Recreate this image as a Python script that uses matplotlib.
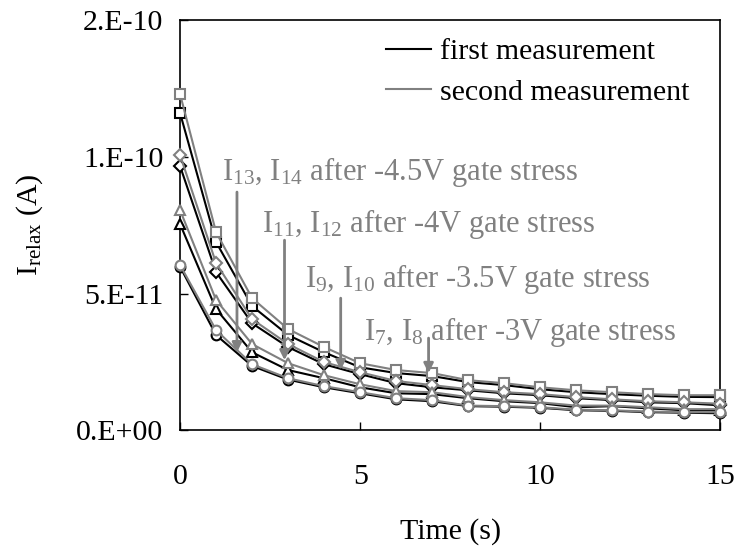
import math
import numpy as np
import matplotlib
matplotlib.use("Agg")
import matplotlib.pyplot as plt
from matplotlib.lines import Line2D
from matplotlib.ticker import FuncFormatter

plt.rcParams["font.family"] = ["Liberation Serif", "DejaVu Serif"]
plt.rcParams["mathtext.fontset"] = "custom"
plt.rcParams["mathtext.rm"] = "Liberation Serif"
plt.rcParams["mathtext.it"] = "Liberation Serif:italic"
plt.rcParams["axes.unicode_minus"] = False

# relaxation current (units of 1e-10 A) sampled once per second
time_s = np.arange(0, 16)

sq_first = [1.160, 0.688, 0.454, 0.348, 0.285, 0.230, 0.209, 0.198, 0.176, 0.165, 0.150, 0.139, 0.132, 0.126, 0.122, 0.121]
sq_second = [1.229, 0.724, 0.483, 0.370, 0.304, 0.245, 0.220, 0.209, 0.183, 0.172, 0.157, 0.146, 0.139, 0.132, 0.128, 0.128]
dia_first = [0.966, 0.578, 0.391, 0.304, 0.241, 0.205, 0.172, 0.157, 0.146, 0.135, 0.128, 0.117, 0.110, 0.102, 0.099, 0.091]
dia_second = [1.006, 0.611, 0.406, 0.315, 0.249, 0.212, 0.180, 0.165, 0.150, 0.139, 0.132, 0.121, 0.113, 0.106, 0.102, 0.097]
tri_first = [0.754, 0.443, 0.285, 0.220, 0.190, 0.157, 0.135, 0.132, 0.117, 0.106, 0.099, 0.084, 0.088, 0.080, 0.073, 0.073]
tri_second = [0.805, 0.476, 0.315, 0.245, 0.201, 0.168, 0.143, 0.139, 0.121, 0.110, 0.102, 0.090, 0.090, 0.084, 0.077, 0.077]
circ_first = [0.598, 0.348, 0.235, 0.185, 0.157, 0.135, 0.113, 0.106, 0.088, 0.086, 0.082, 0.073, 0.071, 0.066, 0.064, 0.062]
circ_second = [0.604, 0.366, 0.241, 0.190, 0.161, 0.139, 0.117, 0.110, 0.090, 0.088, 0.084, 0.075, 0.073, 0.068, 0.066, 0.066]

# labels and arrows: (text x, text baseline y, arrow x, arrow top y, arrow tip y)
ann_labels = [
    r"I$_{13}$, I$_{14}$ after -4.5V gate stress",
    r"I$_{11}$, I$_{12}$ after -4V gate stress",
    r"I$_{9}$, I$_{10}$ after -3.5V gate stress",
    r"I$_{7}$, I$_{8}$ after -3V gate stress",
]
ann_text_x = [1.16, 2.27, 3.46, 5.12]
ann_text_y = [0.915, 0.724, 0.523, 0.329]
arrow_x = [1.58, 2.90, 4.46, 6.90]
arrow_top = [0.871, 0.695, 0.483, 0.337]
arrow_tip = [0.285, 0.256, 0.220, 0.209]

black = "#000000"
gray = "#808080"
scale = 1e-10
fs = 21.5


def sci_label(v, pos):
    # one-digit mantissa with a trailing point, rounded half up
    if v == 0:
        return "0.E+00"
    e = math.floor(math.log10(abs(v)) + 1e-9)
    m = math.floor(v / 10 ** e + 0.5 + 1e-9)
    if m >= 10:
        m, e = 1, e + 1
    return f"{m}.E{e:+03d}"


fig = plt.figure(figsize=(7.38, 5.58), dpi=100)
ax = fig.add_axes([0.244, 0.229, 0.732, 0.735])

series = [
    (sq_first, "s", black), (dia_first, "D", black), (tri_first, "^", black), (circ_first, "o", black),
    (sq_second, "s", gray), (dia_second, "D", gray), (tri_second, "^", gray), (circ_second, "o", gray),
]
for vals, mk, col in series:
    ms = 6.0 if mk == "D" else 7.0
    ax.plot(time_s, np.array(vals) * scale, color=col, lw=1.5, marker=mk, ms=ms,
            mfc="white", mec=col, mew=1.5, clip_on=False, zorder=3)

for lab, tx, ty, axx, atop, atip in zip(ann_labels, ann_text_x, ann_text_y, arrow_x, arrow_top, arrow_tip):
    ax.text(tx, ty * scale, lab, color=gray, fontsize=22, ha="left", va="baseline", zorder=5)
    ax.annotate("", xy=(axx, atip * scale), xytext=(axx, atop * scale),
                arrowprops=dict(arrowstyle="-|>", color=gray, lw=2, mutation_scale=14, shrinkA=0, shrinkB=0),
                zorder=4)

ax.set_xlim(0, 15)
ax.set_ylim(0, 1.5e-10)
ax.set_xticks([0, 5, 10, 15])
ax.set_yticks([0, 0.5e-10, 1.0e-10, 1.5e-10])
ax.yaxis.set_major_formatter(FuncFormatter(sci_label))
ax.tick_params(direction="in", length=6, width=1, labelsize=fs, pad=12)
ax.tick_params(axis="x", pad=24)
for sp in ax.spines.values():
    sp.set_linewidth(1.2)

ax.set_xlabel("Time (s)", fontsize=fs)
ax.xaxis.set_label_coords(0.5, -0.215)
ax.set_ylabel(r"I$_{\mathrm{relax}}$ (A)", fontsize=fs)
ax.yaxis.set_label_coords(-0.25, 0.5)

handles = [Line2D([], [], color=black, lw=1.5), Line2D([], [], color=gray, lw=1.5)]
ax.legend(handles, ["first measurement", "second measurement"], loc="upper left",
          bbox_to_anchor=(0.381, 0.955), frameon=False, fontsize=fs, handlelength=1.5,
          handletextpad=0.3, labelspacing=0.45, borderpad=0, borderaxespad=0)

fig.savefig("out.png", dpi=100)
